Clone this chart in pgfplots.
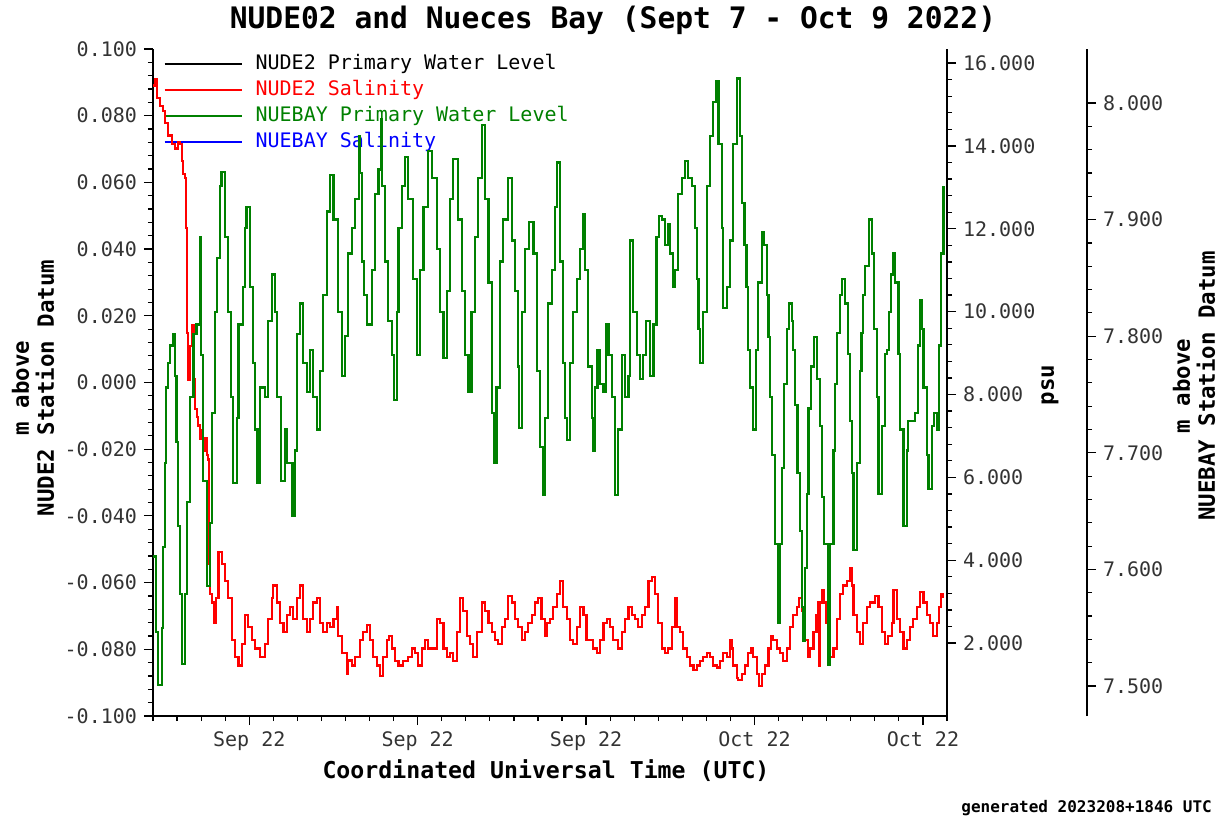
\documentclass[border=0pt]{standalone}
\usepackage{pgfplots}
\pgfplotsset{compat=1.18}
\usepackage{pgfplotstable}
\usepackage{fontspec}
\setmainfont{DejaVu Sans}
\newfontfamily\mono{DejaVu Sans Mono}
\definecolor{wlgreen}{RGB}{0,128,0}

\pgfplotstableread{
d v
0.01 7.611
0.12 7.546
0.22 7.501
0.36 7.550
0.43 7.619
0.50 7.691
0.54 7.756
0.64 7.777
0.71 7.792
0.82 7.802
0.91 7.766
0.98 7.709
1.05 7.637
1.12 7.579
1.22 7.519
1.33 7.579
1.40 7.658
1.54 7.748
1.68 7.802
1.81 7.810
1.95 7.885
1.98 7.784
2.09 7.676
2.26 7.586
2.37 7.640
2.44 7.734
2.58 7.821
2.67 7.867
2.78 7.929
2.85 7.941
2.99 7.885
3.13 7.821
3.23 7.748
3.34 7.674
3.48 7.730
3.55 7.810
3.73 7.842
3.82 7.893
3.89 7.911
4.03 7.842
4.17 7.777
4.25 7.720
4.34 7.674
4.45 7.756
4.66 7.748
4.79 7.813
4.93 7.853
5.07 7.821
5.17 7.748
5.31 7.676
5.49 7.720
5.58 7.691
5.80 7.646
5.90 7.702
5.97 7.802
6.11 7.828
6.25 7.777
6.39 7.752
6.53 7.788
6.66 7.748
6.80 7.720
6.94 7.770
7.08 7.835
7.22 7.907
7.36 7.938
7.50 7.900
7.70 7.821
7.84 7.766
7.98 7.800
8.12 7.871
8.26 7.893
8.40 7.918
8.56 7.972
8.60 7.940
8.70 7.864
8.77 7.835
8.88 7.810
9.09 7.857
9.23 7.922
9.37 7.943
9.50 7.986
9.53 7.929
9.64 7.864
9.78 7.813
9.92 7.784
10.03 7.745
10.13 7.821
10.20 7.893
10.34 7.929
10.47 7.954
10.61 7.918
10.82 7.849
10.96 7.784
11.10 7.857
11.24 7.911
11.44 7.959
11.58 7.936
11.79 7.875
11.93 7.821
12.07 7.781
12.21 7.839
12.34 7.918
12.48 7.952
12.69 7.900
12.83 7.839
12.97 7.784
13.11 7.752
13.24 7.821
13.38 7.885
13.52 7.936
13.66 7.981
13.80 7.918
13.94 7.846
14.08 7.734
14.19 7.691
14.28 7.756
14.42 7.864
14.56 7.900
14.74 7.936
14.91 7.882
15.05 7.839
15.16 7.774
15.21 7.721
15.32 7.821
15.46 7.875
15.64 7.898
15.81 7.871
15.95 7.770
16.08 7.705
16.20 7.664
16.29 7.730
16.43 7.828
16.57 7.857
16.71 7.911
16.78 7.949
16.92 7.864
17.05 7.777
17.12 7.730
17.22 7.711
17.33 7.777
17.47 7.821
17.61 7.849
17.75 7.875
17.86 7.905
17.96 7.857
18.09 7.774
18.23 7.730
18.30 7.702
18.37 7.756
18.47 7.788
18.58 7.759
18.72 7.752
18.83 7.810
18.93 7.784
19.06 7.748
19.20 7.664
19.34 7.720
19.48 7.784
19.62 7.748
19.76 7.766
19.83 7.882
19.96 7.821
20.10 7.784
20.24 7.763
20.38 7.784
20.49 7.813
20.66 7.766
20.80 7.810
20.93 7.885
21.04 7.903
21.14 7.900
21.28 7.878
21.39 7.896
21.49 7.871
21.60 7.842
21.70 7.857
21.83 7.922
21.97 7.936
22.11 7.950
22.25 7.936
22.39 7.929
22.53 7.893
22.60 7.849
22.67 7.806
22.74 7.777
22.87 7.821
23.01 7.929
23.15 7.972
23.29 8.001
23.40 8.019
23.50 7.965
23.64 7.893
23.70 7.824
23.84 7.842
23.98 7.882
24.12 7.965
24.26 8.021
24.40 7.972
24.49 7.914
24.58 7.878
24.67 7.842
24.74 7.788
24.81 7.756
24.95 7.720
25.05 7.788
25.16 7.846
25.30 7.889
25.37 7.878
25.51 7.835
25.58 7.799
25.64 7.748
25.71 7.698
25.85 7.622
25.99 7.554
26.06 7.622
26.13 7.687
26.24 7.759
26.34 7.806
26.43 7.828
26.55 7.813
26.61 7.788
26.68 7.741
26.79 7.683
26.89 7.633
26.96 7.568
27.03 7.539
27.10 7.601
27.17 7.665
27.24 7.738
27.35 7.774
27.46 7.799
27.58 7.763
27.72 7.723
27.82 7.662
27.90 7.622
28.04 7.518
28.14 7.622
28.28 7.702
28.35 7.759
28.42 7.803
28.55 7.835
28.65 7.849
28.76 7.828
28.90 7.785
28.97 7.727
29.04 7.683
29.11 7.617
29.25 7.691
29.39 7.770
29.45 7.803
29.52 7.835
29.59 7.860
29.77 7.900
29.87 7.871
29.98 7.806
30.08 7.748
30.15 7.665
30.29 7.723
30.42 7.785
30.49 7.788
30.59 7.821
30.67 7.853
30.77 7.871
30.84 7.846
30.98 7.785
31.05 7.720
31.19 7.637
31.33 7.702
31.39 7.727
31.53 7.727
31.67 7.734
31.78 7.792
31.88 7.831
31.95 7.806
32.02 7.756
32.16 7.698
32.23 7.669
32.36 7.723
32.47 7.734
32.57 7.720
32.67 7.792
32.75 7.871
32.85 7.929
}\greentab

\pgfplotstableread{
d v
0.01 15.46
0.08 15.62
0.15 15.16
0.29 14.96
0.43 14.85
0.50 14.55
0.64 14.25
0.78 14.04
0.91 13.94
1.05 14.09
1.12 14.04
1.19 13.64
1.26 13.33
1.33 13.23
1.36 12.01
1.40 9.48
1.47 8.36
1.54 9.17
1.61 9.68
1.68 8.97
1.72 8.36
1.76 7.65
1.82 7.45
1.88 7.25
1.95 6.94
2.02 7.14
2.09 6.64
2.16 6.94
2.23 6.54
2.30 6.43
2.34 3.90
2.37 3.19
2.45 2.98
2.53 2.48
2.62 3.09
2.72 4.20
2.86 3.90
2.99 3.49
3.13 3.09
3.27 2.07
3.41 1.66
3.55 1.46
3.69 1.97
3.82 2.68
3.96 2.38
4.10 2.07
4.24 1.87
4.45 1.66
4.66 1.97
4.79 2.58
4.93 3.09
5.00 3.39
5.14 2.98
5.28 2.48
5.42 2.27
5.56 2.68
5.69 2.88
5.83 2.58
5.97 3.09
6.11 3.39
6.25 2.58
6.39 2.27
6.53 2.58
6.66 2.98
6.80 3.09
6.94 2.48
7.08 2.27
7.22 2.48
7.36 2.38
7.50 2.58
7.64 2.88
7.70 2.17
7.84 1.77
8.05 1.26
8.12 1.58
8.26 1.46
8.40 1.66
8.60 2.07
8.74 2.27
8.88 2.43
9.02 2.07
9.16 1.66
9.30 1.46
9.43 1.21
9.57 1.66
9.71 2.07
9.81 2.17
9.92 1.87
10.06 1.56
10.20 1.46
10.40 1.56
10.61 1.66
10.75 1.87
10.89 1.77
11.03 1.46
11.17 1.87
11.31 2.07
11.44 1.87
11.65 1.87
11.79 2.58
11.93 2.48
12.07 1.87
12.21 1.66
12.34 1.77
12.48 1.56
12.62 2.27
12.76 3.09
12.90 2.78
13.04 2.17
13.18 1.97
13.31 1.66
13.45 2.27
13.66 2.98
13.80 2.78
13.94 2.48
14.08 2.27
14.21 2.07
14.35 1.97
14.49 2.38
14.63 2.58
14.77 3.14
14.91 2.98
15.05 2.58
15.18 2.38
15.32 2.07
15.46 2.27
15.60 2.48
15.74 2.68
15.88 2.98
15.99 3.09
16.15 2.58
16.29 2.17
16.36 2.48
16.50 2.58
16.64 2.88
16.78 3.19
16.92 3.49
17.05 2.88
17.19 2.58
17.33 2.07
17.47 1.97
17.61 2.38
17.75 2.88
17.89 2.68
18.02 2.07
18.16 2.07
18.30 1.87
18.44 1.77
18.58 2.07
18.72 2.48
18.86 2.58
19.00 2.38
19.13 2.07
19.34 1.87
19.48 2.27
19.62 2.58
19.76 2.88
19.90 2.68
20.03 2.58
20.17 2.38
20.31 2.68
20.45 2.88
20.59 3.49
20.73 3.59
20.86 3.19
21.00 2.48
21.14 1.87
21.28 1.77
21.42 1.87
21.56 2.38
21.70 3.09
21.77 2.38
21.90 2.27
22.04 1.87
22.18 1.66
22.32 1.46
22.46 1.36
22.60 1.46
22.74 1.56
22.87 1.66
23.01 1.77
23.15 1.66
23.29 1.46
23.43 1.41
23.57 1.56
23.70 1.77
23.84 1.66
23.98 2.07
24.05 1.87
24.12 1.46
24.26 1.16
24.33 1.11
24.47 1.26
24.61 1.46
24.74 1.77
24.86 1.87
24.95 1.66
25.09 1.26
25.19 0.96
25.30 1.26
25.44 1.46
25.58 1.87
25.69 2.17
25.78 2.07
25.92 1.87
26.06 1.77
26.20 1.56
26.34 1.87
26.48 2.38
26.61 2.68
26.75 2.88
26.85 3.09
26.96 2.78
27.10 2.07
27.21 1.66
27.31 1.87
27.45 2.27
27.58 2.68
27.65 2.98
27.68 1.46
27.72 2.98
27.82 3.29
27.90 2.98
27.96 2.48
28.04 1.87
28.14 1.66
28.28 1.87
28.42 2.58
28.55 3.19
28.69 3.39
28.83 3.49
28.97 3.80
29.04 3.39
29.11 2.68
29.25 2.27
29.39 1.97
29.52 2.48
29.66 2.88
29.80 2.98
30.01 3.14
30.15 2.88
30.29 2.27
30.42 1.97
30.56 2.17
30.70 2.48
30.78 3.29
30.91 2.58
31.05 2.27
31.19 1.87
31.33 2.07
31.46 2.38
31.60 2.58
31.74 2.88
31.88 3.24
32.02 2.98
32.16 2.68
32.29 2.48
32.43 2.17
32.57 2.48
32.67 2.88
32.75 3.19
32.85 3.09
}\redtab

\pgfplotsset{
  base/.style={
    scale only axis, width=397pt, height=333.5pt,
    xmin=0, xmax=33,
    tick align=outside,
    major tick length=4.5pt, minor tick length=2.5pt,
    axis line style={-, line width=0.8pt, black},
    every tick/.append style={black, line width=0.6pt},
    tick label style={font=\mono\fontsize{10}{12}\selectfont, text=black!80},
    /pgf/number format/assume math mode=true,
    yticklabel style={/pgf/number format/.cd, fixed, fixed zerofill, precision=3},
  }
}

\begin{document}
\begin{tikzpicture}
\useasboundingbox (-76.5pt,-51.5pt) rectangle (533.5pt,358pt);
\clip (-76.5pt,-51.5pt) rectangle (533.5pt,358pt);

\begin{axis}[base,
  ymin=-0.1, ymax=0.1,
  axis x line*=bottom, axis y line*=left,
  ytick={-0.1,-0.08,-0.06,-0.04,-0.02,0,0.02,0.04,0.06,0.08,0.1},
  minor y tick num=4,
  xtick={4,11,18,25,32},
  xticklabels={Sep 22,Sep 22,Sep 22,Oct 22,Oct 22},
  minor xtick={0,1,...,33},
  legend cell align=left,
  legend image code/.code={\draw[#1, line width=1.1pt] (0pt,0pt) -- (38.5pt,0pt);},
  legend style={at={(rel axis cs:0,1)}, anchor=north west, xshift=5pt, yshift=-1pt,
    draw=none, fill=none, inner sep=0pt, row sep=0pt,
    font=\mono\fontsize{10}{12}\selectfont,
    nodes={inner sep=0pt, text height=9pt, text depth=4pt},
    /tikz/every odd column/.append style={column sep=6.5pt}},
]
\addlegendimage{black}
\addlegendentry[text=black]{NUDE2 Primary Water Level}
\addlegendimage{red}
\addlegendentry[text=red]{NUDE2 Salinity}
\addlegendimage{wlgreen}
\addlegendentry[text=wlgreen]{NUEBAY Primary Water Level}
\addlegendimage{blue}
\addlegendentry[text=blue]{NUEBAY Salinity}
\end{axis}

\begin{axis}[base,
  ymin=0.24, ymax=16.34,
  hide x axis, axis y line*=right,
  ytick={2,4,6,8,10,12,14,16},
  minor y tick num=4,
]
\addplot[red, const plot, line width=1.1pt] table[x=d, y=v] {\redtab};
\end{axis}

\begin{axis}[base,
  width=467pt, xmax=38.8186,
  ymin=7.4743, ymax=8.0463,
  hide x axis, axis y line*=right,
  ytick={7.5,7.6,7.7,7.8,7.9,8.0},
  minor y tick num=4,
]
\addplot[wlgreen, const plot, line width=1.1pt] table[x=d, y=v] {\greentab};
\end{axis}

\begin{scope}[x=0.5pt, y=0.5pt]
\node[font=\mono\bfseries\fontsize{14.8}{18}\selectfont] at (460,696) {NUDE02 and Nueces Bay (Sept 7 - Oct 9 2022)};
\node[font=\mono\bfseries\fontsize{11.6}{14}\selectfont] at (393,-55) {Coordinated Universal Time (UTC)};
\node[font=\mono\bfseries\fontsize{11.2}{12.5}\selectfont, rotate=90, align=center] at (-120,328) {m above\\NUDE2 Station Datum};
\node[font=\mono\bfseries\fontsize{11.2}{12.5}\selectfont, rotate=90] at (897,331) {psu};
\node[font=\mono\bfseries\fontsize{11.2}{12.5}\selectfont, rotate=90, align=center] at (1041,330) {m above\\NUEBAY Station Datum};
\node[font=\mono\bfseries\fontsize{8}{10}\selectfont, anchor=base west, inner sep=0pt] at (808,-96) {generated 2023208+1846 UTC};
\end{scope}
\end{tikzpicture}
\end{document}
